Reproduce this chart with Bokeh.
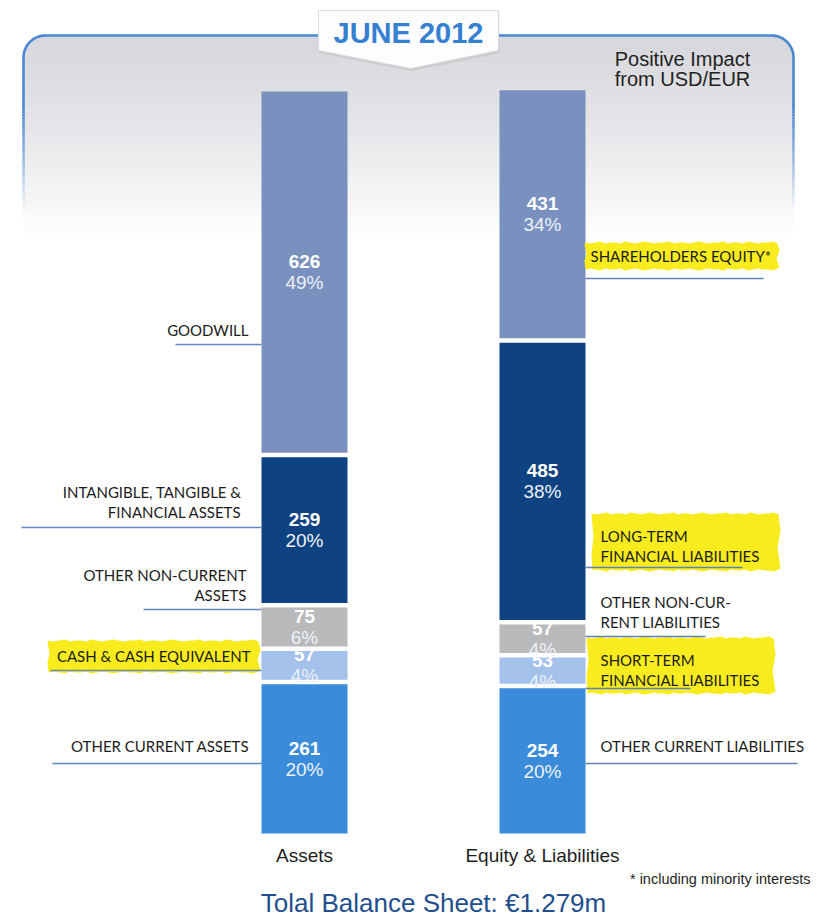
import numpy as np
from bokeh.plotting import figure
from bokeh.models import Range1d, ColumnDataSource
from bokeh.core.properties import value
from bokeh.embed import file_html
from bokeh.resources import INLINE

# ---------------- data ----------------
categories = ["Assets", "Equity & Liabilities"]
asset_items = ["GOODWILL", "INTANGIBLE, TANGIBLE &\nFINANCIAL ASSETS", "OTHER NON-CURRENT\nASSETS",
               "CASH & CASH EQUIVALENT", "OTHER CURRENT ASSETS"]
asset_values = [626, 259, 75, 57, 261]
asset_shares = ["49%", "20%", "6%", "4%", "20%"]
liability_items = ["SHAREHOLDERS EQUITY*", "LONG-TERM\nFINANCIAL LIABILITIES", "OTHER NON-CUR-\nRENT LIABILITIES",
                   "SHORT-TERM\nFINANCIAL LIABILITIES", "OTHER CURRENT LIABILITIES"]
liability_values = [431, 485, 57, 53, 254]
liability_shares = ["34%", "38%", "4%", "4%", "20%"]
asset_highlight = [False, False, False, True, False]
liability_highlight = [True, True, False, True, False]
title_text = "JUNE 2012"
note_lines = ["Positive Impact", "from USD/EUR"]
footnote = "* including minority interests"
total_text = "Tolal Balance Sheet: \u20ac1.279m"

# ---------------- styles / layout ----------------
seg_colors = ["#7a90be", "#0e4280", "#b9babc", "#a4c1ec", "#3a8cda"]
W, H = 832, 916
BASE_PX = 833.0            # page y of value 0
K = 742.0 / 1278.0         # px per unit


def Y(py):
    return (BASE_PX - py) / K


p = figure(width=W, height=H, output_backend="svg", toolbar_location=None,
           x_range=Range1d(0, W), y_range=Range1d(Y(H), Y(0)),
           x_axis_location=None, y_axis_location=None, min_border=0,
           background_fill_color="white", border_fill_color="white")
p.outline_line_color = None
p.grid.visible = False

# ---------------- background panel ----------------
L, R, T, r = 23.0, 793.0, 35.0, 22.0
band_top = np.arange(T, 236.0, 2.0)
lefts, rights, tops, bottoms, cols = [], [], [], [], []
for yy in band_top:
    t = (yy - T) / (236.0 - T)
    f = t ** 1.3
    c0 = np.array([213, 214, 219])
    c = c0 + (255 - c0) * f
    yc = yy + 1
    inset = 0.0
    if yc < T + r:
        inset = r - np.sqrt(max(r * r - (T + r - yc) ** 2, 0))
    lefts.append(L + inset)
    rights.append(R - inset)
    tops.append(Y(yy))
    bottoms.append(Y(yy + 2.2))
    cols.append("#%02x%02x%02x" % tuple(int(round(v)) for v in c))
p.quad(left=lefts, right=rights, top=tops, bottom=bottoms, fill_color=cols, line_color=None)

# border path (solid part)
bx, by = [], []
bx.append(L); by.append(Y(110))
for th in np.linspace(np.pi, np.pi / 2, 16):
    bx.append(L + r + r * np.cos(th)); by.append(Y(T + r - r * np.sin(th)))
for th in np.linspace(np.pi / 2, 0, 16):
    bx.append(R - r + r * np.cos(th)); by.append(Y(T + r - r * np.sin(th)))
bx.append(R); by.append(Y(110))
p.line(bx, by, line_color="#4a88d2", line_width=2.6)
# fading sides
segs = np.arange(110, 212, 3.0)
for xs in (L, R):
    p.segment(x0=[xs] * len(segs), y0=[Y(s) for s in segs], x1=[xs] * len(segs), y1=[Y(s + 3) for s in segs],
              line_color="#4a88d2", line_width=2.6,
              line_alpha=[max(0.0, 1 - (s - 110) / 100.0) for s in segs])

# title tag
tag_x = [318, 498, 498, 410, 318]
tag_y = [Y(10), Y(10), Y(50), Y(68), Y(50)]
p.patch([x + 1 for x in tag_x], [y - 2.5 / K for y in tag_y], fill_color="#9a9a9a", fill_alpha=0.25, line_color=None)
p.patch(tag_x, tag_y, fill_color="#fdfdfd", line_color="#dcdcdc", line_width=1)
p.text(x=[408], y=[Y(32)], text=[title_text], text_font=value("Liberation Sans"), text_font_style="bold",
       text_font_size="29px", text_color="#3580d0", text_align="center", text_baseline="middle")

p.text(x=[682, 682], y=[Y(58), Y(78)], text=note_lines, text_font=value("Liberation Sans"),
       text_font_size="20px", text_color="#222222", text_align="center", text_baseline="middle")

# ---------------- bars ----------------
bar_centers = [304.0, 542.0]
bar_half = 43.0
gap = 4.5 / K


def stack(vals):
    total = float(sum(vals))
    tops_, bots_ = [], []
    cum = total
    for i, v in enumerate(vals):
        tp, bt = cum, cum - v
        tops_.append(tp - (gap / 2 if i > 0 else 0))
        bots_.append(bt + (gap / 2 if i < len(vals) - 1 else 0))
        cum -= v
    return tops_, bots_


for xc, vals, shares in ((bar_centers[0], asset_values, asset_shares),
                         (bar_centers[1], liability_values, liability_shares)):
    tps, bts = stack(vals)
    src = ColumnDataSource(dict(left=[xc - bar_half] * len(vals), right=[xc + bar_half] * len(vals),
                                top=tps, bottom=bts, color=seg_colors))
    p.quad(left="left", right="right", top="top", bottom="bottom", fill_color="color", line_color=None, source=src)
    mids = [(a + b) / 2 for a, b in zip(tps, bts)]
    p.text(x=[xc] * len(vals), y=[m + 10.5 / K for m in mids], text=[str(v) for v in vals],
           text_font=value("Liberation Sans"), text_font_style="bold", text_font_size="19px",
           text_color="white", text_align="center", text_baseline="middle")
    p.text(x=[xc] * len(vals), y=[m - 10.5 / K for m in mids], text=shares,
           text_font=value("Liberation Sans"), text_font_size="19px",
           text_color="#eef2f8", text_align="center", text_baseline="middle")

# ---------------- side labels ----------------
LABEL_FONT = value("Lato")
LABEL_SIZE = "15px"
LABEL_COLOR = "#1c1c1c"
LINE_SP = 20.0

asset_label_y = [329, 491, 574, 655, 745]
asset_label_right = [248, 241, 246, 250, 249]
asset_rule = [(175, 344), (21, 527), (143, 609), (50, 670), (52, 763)]
asset_hl = {3: (48, 258, 640, 672)}

liab_label_y = [255, 535, 601, 659, 745]
liab_label_left = [590, 600, 600, 600, 600]
liab_rule = [(763, 278), (742, 567), (705, 636), (690, 688), (797, 763)]
liab_hl = {0: (585, 777, 242, 269), 1: (592, 778, 513, 570), 3: (587, 773, 637, 693)}

HL = "#f8ec1f"


def marker(x0, x1, y0, y1):
    # slightly ragged highlighter stroke outline (fixed wobble pattern)
    wob = np.array([0, 1, 0, -1, 1, 0, 0, 1, -1, 0, 1, 0, -1, 0, 1, 0, 0, -1, 1, 0, 0, 1, 0, -1,
                    0, 1, 0, 0, -1, 1, 0, 0, 1, -1, 0, 1, 0, 0, -1, 1], dtype=float)
    n = len(wob)
    xs_top = np.linspace(x0, x1, n)
    top = [Y(y0 + w) for w in wob]
    bot = [Y(y1 - w) for w in wob[::-1]]
    xs = list(xs_top) + [x1 + 2, x1 - 1, x1 + 2] + list(xs_top[::-1]) + [x0 - 1, x0 + 1, x0 - 1]
    ys = top + [Y(y0 + (y1 - y0) * 0.3), Y(y0 + (y1 - y0) * 0.6), Y(y1 - 2)] + bot + \
        [Y(y1 - (y1 - y0) * 0.3), Y(y1 - (y1 - y0) * 0.6), Y(y0 + 2)]
    p.patch(xs, ys, fill_color=HL, line_color=None)


for i, flag in enumerate(asset_highlight):
    if flag:
        marker(*asset_hl[i])
for i, flag in enumerate(liability_highlight):
    if flag:
        marker(*liab_hl[i])

# rules
p.segment(x0=[a for a, _ in asset_rule], y0=[Y(b) for _, b in asset_rule],
          x1=[bar_centers[0] - bar_half] * 5, y1=[Y(b) for _, b in asset_rule],
          line_color="#5f88bf", line_width=1.5)
p.segment(x0=[bar_centers[1] + bar_half] * 5, y0=[Y(b) for _, b in liab_rule],
          x1=[a for a, _ in liab_rule], y1=[Y(b) for _, b in liab_rule],
          line_color="#5f80b3", line_width=1.5)

lx, ly, lt = [], [], []
for item, yy, xr in zip(asset_items, asset_label_y, asset_label_right):
    for j, line in enumerate(item.split("\n")):
        lx.append(xr); ly.append(Y(yy + j * LINE_SP)); lt.append(line)
p.text(x=lx, y=ly, text=lt, text_font=LABEL_FONT, text_font_size=LABEL_SIZE, text_color=LABEL_COLOR,
       text_align="right", text_baseline="middle")

rx, ry, rt = [], [], []
for item, yy, xl in zip(liability_items, liab_label_y, liab_label_left):
    for j, line in enumerate(item.split("\n")):
        rx.append(xl); ry.append(Y(yy + j * LINE_SP)); rt.append(line)
p.text(x=rx, y=ry, text=rt, text_font=LABEL_FONT, text_font_size=LABEL_SIZE, text_color=LABEL_COLOR,
       text_align="left", text_baseline="middle")

# ---------------- bottom texts ----------------
p.text(x=bar_centers, y=[Y(855)] * 2, text=categories, text_font=value("Liberation Sans"),
       text_font_size="19px", text_color="#1e1e1e", text_align="center", text_baseline="middle")
p.text(x=[810], y=[Y(878)], text=[footnote], text_font=value("Liberation Sans"),
       text_font_size="14.5px", text_color="#1e1e1e", text_align="right", text_baseline="middle")
p.text(x=[433], y=[Y(902)], text=[total_text], text_font=value("Liberation Sans"),
       text_font_size="26px", text_color="#1f4f8e", text_align="center", text_baseline="middle")

open("out.html", "w").write(file_html(p, INLINE))
